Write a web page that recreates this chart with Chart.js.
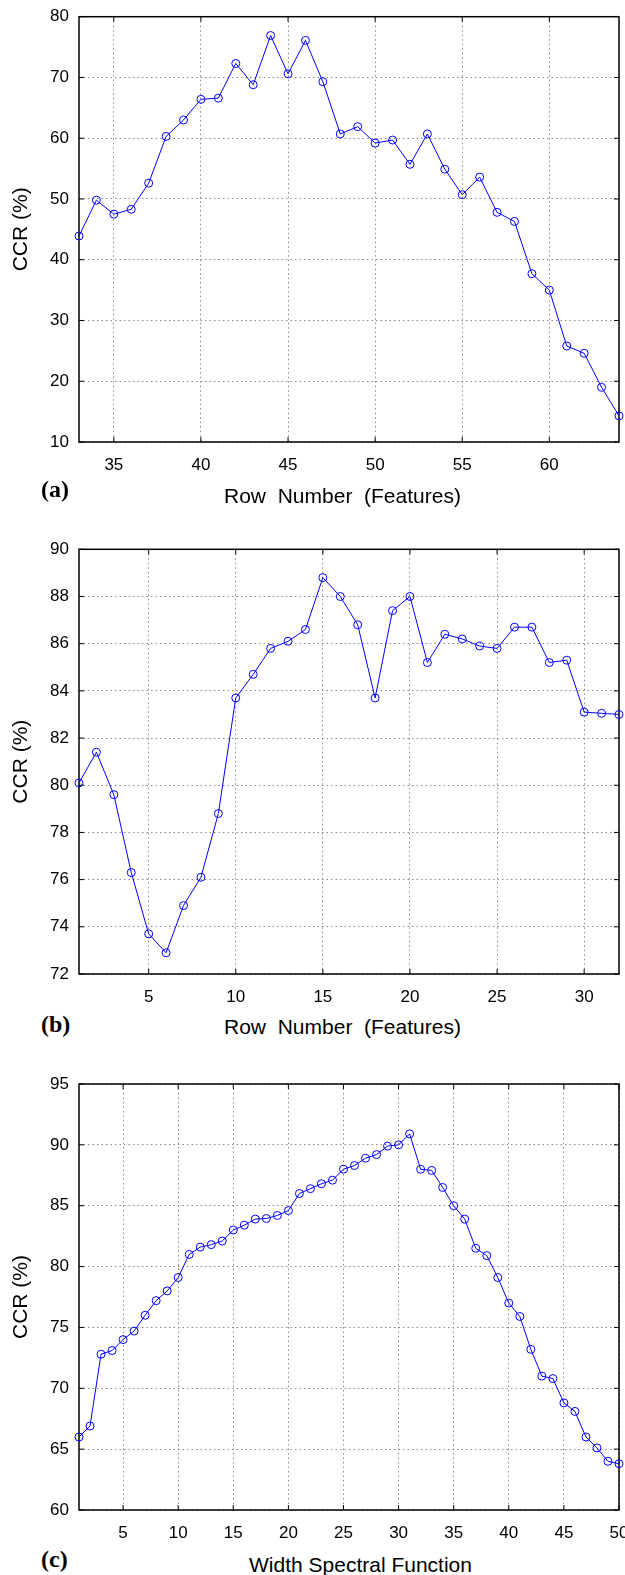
<!DOCTYPE html>
<html>
<head>
<meta charset="utf-8">
<script src="https://cdn.jsdelivr.net/npm/chart.js@4.4.1/dist/chart.umd.min.js"></script>
<style>
body { margin: 0; background: #fff; width: 625px; height: 1575px; position: relative; overflow: hidden; }
canvas { position: absolute; left: 0; }
.xt { position: absolute; font-family: "Liberation Sans", Arial, sans-serif; font-size: 21px; line-height: 1; white-space: pre; color: #000; }
.lab { position: absolute; font-family: "Liberation Serif", "Times New Roman", serif; font-weight: bold; font-size: 24px; line-height: 1; color: #000; }
</style>
</head>
<body>
<canvas id="chartA" width="625" height="478" style="top:0px"></canvas>
<canvas id="chartB" width="625" height="490" style="top:520px"></canvas>
<canvas id="chartC" width="625" height="496" style="top:1050px"></canvas>

<div class="lab" style="left:41px;top:477px">(a)</div>
<div class="xt" style="left:224px;top:485px">Row  Number  (Features)</div>
<div class="lab" style="left:41px;top:1012px">(b)</div>
<div class="xt" style="left:224px;top:1016px">Row  Number  (Features)</div>
<div class="lab" style="left:41px;top:1547px">(c)</div>
<div class="xt" style="left:249px;top:1554px">Width Spectral Function</div>

<script>
// (a) CCR vs row number 33..64
var rowsA = [33, 34, 35, 36, 37, 38, 39, 40, 41, 42, 43, 44, 45, 46, 47, 48,
             49, 50, 51, 52, 53, 54, 55, 56, 57, 58, 59, 60, 61, 62, 63, 64];
var ccrA = [43.9, 49.8, 47.5, 48.3, 52.6, 60.3, 63.0, 66.4, 66.6, 72.3, 68.8, 76.9, 70.6, 76.1, 69.3, 60.7,
            61.9, 59.2, 59.7, 55.7, 60.7, 54.9, 50.7, 53.6, 47.8, 46.3, 37.7, 35.0, 25.8, 24.6, 19.0, 14.3];
var xTicksA = [35, 40, 45, 50, 55, 60];
var yTicksA = [10, 20, 30, 40, 50, 60, 70, 80];

// (b) CCR vs row number 1..32
var rowsB = [1, 2, 3, 4, 5, 6, 7, 8, 9, 10, 11, 12, 13, 14, 15, 16,
             17, 18, 19, 20, 21, 22, 23, 24, 25, 26, 27, 28, 29, 30, 31, 32];
var ccrB = [80.1, 81.4, 79.6, 76.3, 73.7, 72.9, 74.9, 76.1, 78.8, 83.7, 84.7, 85.8, 86.1, 86.6, 88.8, 88.0,
            86.8, 83.7, 87.4, 88.0, 85.2, 86.4, 86.2, 85.9, 85.8, 86.7, 86.7, 85.2, 85.3, 83.1, 83.05, 83.0];
var xTicksB = [5, 10, 15, 20, 25, 30];
var yTicksB = [72, 74, 76, 78, 80, 82, 84, 86, 88, 90];

// (c) CCR vs width of spectral function 1..50
var widthC = [1, 2, 3, 4, 5, 6, 7, 8, 9, 10, 11, 12, 13, 14, 15, 16, 17, 18, 19, 20, 21, 22, 23, 24, 25,
              26, 27, 28, 29, 30, 31, 32, 33, 34, 35, 36, 37, 38, 39, 40, 41, 42, 43, 44, 45, 46, 47, 48, 49, 50];
var ccrC = [66.0, 66.9, 72.8, 73.1, 74.0, 74.7, 76.0, 77.2, 78.0, 79.1,
            81.0, 81.6, 81.8, 82.1, 83.0, 83.4, 83.9, 83.95, 84.2, 84.6,
            86.0, 86.4, 86.8, 87.1, 88.0, 88.3, 88.9, 89.2, 89.9, 90.0,
            90.9, 88.0, 87.9, 86.5, 85.0, 83.9, 81.5, 80.9, 79.1, 77.0,
            75.9, 73.2, 71.0, 70.8, 68.8, 68.1, 66.0, 65.1, 64.0, 63.8];
var xTicksC = [5, 10, 15, 20, 25, 30, 35, 40, 45, 50];
var yTicksC = [60, 65, 70, 75, 80, 85, 90, 95];

// black box round the plot plus small inner tick marks on all sides
var frame = {
  id: 'frame',
  beforeDatasetsDraw: function (chart) {
    var a = chart.chartArea, ctx = chart.ctx;
    var sx = chart.scales.x, sy = chart.scales.y;
    ctx.save();
    ctx.strokeStyle = '#000';
    ctx.lineWidth = 1;
    ctx.beginPath();
    sx.ticks.forEach(function (t) {
      var px = sx.getPixelForValue(t.value);
      ctx.moveTo(px, a.bottom); ctx.lineTo(px, a.bottom - 5);
      ctx.moveTo(px, a.top); ctx.lineTo(px, a.top + 5);
    });
    sy.ticks.forEach(function (t) {
      var py = sy.getPixelForValue(t.value);
      ctx.moveTo(a.left, py); ctx.lineTo(a.left + 5, py);
      ctx.moveTo(a.right, py); ctx.lineTo(a.right - 5, py);
    });
    ctx.stroke();
    ctx.lineWidth = 1.5;
    ctx.strokeRect(a.left, a.top, a.right - a.left, a.bottom - a.top);
    ctx.restore();
  }
};

function makeChart(id, xs, ys, xMin, xMax, xTicks, yMin, yMax, yTicks, padTop) {
  var pts = xs.map(function (x, i) { return { x: x, y: ys[i] }; });
  return new Chart(document.getElementById(id), {
    type: 'line',
    data: {
      datasets: [{
        data: pts,
        borderColor: '#0000ff',
        borderWidth: 1,
        pointRadius: 4,
        pointBorderWidth: 1,
        pointBorderColor: '#0000ff',
        pointBackgroundColor: 'rgba(0,0,0,0)',
        tension: 0,
        clip: false
      }]
    },
    options: {
      responsive: false,
      animation: false,
      layout: { padding: { top: padTop, right: 6, left: 0, bottom: 0 } },
      plugins: { legend: { display: false }, tooltip: { enabled: false } },
      scales: {
        x: {
          type: 'linear',
          min: xMin,
          max: xMax,
          afterBuildTicks: function (s) { s.ticks = xTicks.map(function (v) { return { value: v }; }); },
          afterFit: function (s) { s.height = 36; s.paddingLeft = 0; s.paddingRight = 0; },
          grid: { color: '#8a8a8a', lineWidth: 1, drawTicks: false },
          border: { display: false, dash: [1.5, 3] },
          ticks: { color: '#000', padding: 13, maxRotation: 0, autoSkip: false,
                   font: { family: '"Liberation Sans", Arial, sans-serif', size: 17 } }
        },
        y: {
          min: yMin,
          max: yMax,
          afterBuildTicks: function (s) { s.ticks = yTicks.map(function (v) { return { value: v }; }); },
          afterFit: function (s) { s.width = 79; s.paddingTop = 0; s.paddingBottom = 0; },
          grid: { color: '#8a8a8a', lineWidth: 1, drawTicks: false },
          border: { display: false, dash: [1.5, 3] },
          ticks: { color: '#000', padding: 10, autoSkip: false,
                   font: { family: '"Liberation Sans", Arial, sans-serif', size: 17 } },
          title: { display: true, text: 'CCR (%)', color: '#000', padding: { top: 9, bottom: 0 },
                   font: { family: '"Liberation Sans", Arial, sans-serif', size: 21 } }
        }
      }
    },
    plugins: [frame]
  });
}

makeChart('chartA', rowsA, ccrA, 33, 64, xTicksA, 10, 80, yTicksA, 16.7);
makeChart('chartB', rowsB, ccrB, 1, 32, xTicksB, 72, 90, yTicksB, 29.3);
makeChart('chartC', widthC, ccrC, 1, 50, xTicksC, 60, 95, yTicksC, 34);
</script>
</body>
</html>
